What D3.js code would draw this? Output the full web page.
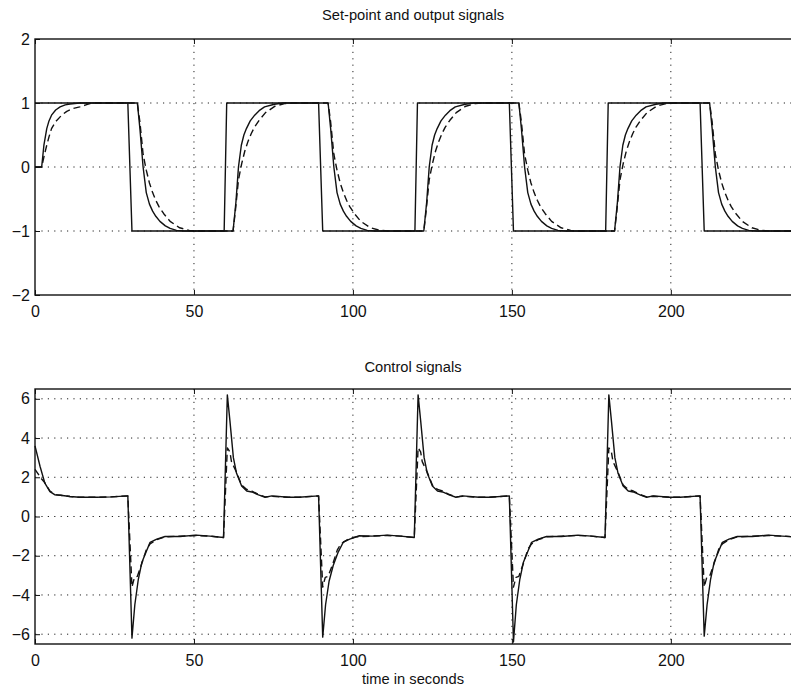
<!DOCTYPE html>
<html>
<head>
<meta charset="utf-8">
<script src="https://cdn.jsdelivr.net/npm/d3@7"></script>
<style>
  body { margin: 0; background: #fff; }
  svg { display: block; font-family: "Liberation Sans", Arial, Helvetica, sans-serif; }
  .grid line { stroke: #222; stroke-width: 1; stroke-dasharray: 1.2,5.2; }
  .axis text { font-size: 16px; fill: #111; }
  .axis line { stroke: #111; stroke-width: 1; }
  .axis path { display: none; }
  .frame { fill: none; stroke: #111; stroke-width: 1.4; }
  .sig { fill: none; stroke: #111; stroke-width: 1.4; stroke-linejoin: round; }
  .dash { stroke-dasharray: 7,4; }
  .title { font-size: 14.7px; fill: #111; text-anchor: middle; }
</style>
</head>
<body>
<p></p>
<script>
var w = 791;
var h = 688;

// time axis ticks and y ticks
var xTicks = [0, 50, 100, 150, 200];
var yTicksTop = [-2, -1, 0, 1, 2];
var yTicksBottom = [-6, -4, -2, 0, 2, 4, 6];

// set-point (square wave), [time, value]
var setpoint = [[0,1],[29.2,1],[30.5,-1],[59.5,-1],[60.3,1],[89.2,1],[90.5,-1],[119.5,-1],
  [120.3,1],[149.2,1],[150.5,-1],[179.5,-1],[180.3,1],[209.2,1],[210.5,-1],[240,-1]];

// output, solid curve
var outputSolid = [[0,0],[2.1,0],[2.8,0.34],[3.7,0.6],[4.4,0.72],[5.2,0.81],[6.5,0.89],[7.9,0.94],[9.5,0.97],[11,0.985],[14,1],
  [32.2,1],[33,0.6],[34,0],[35,-0.4],[36,-0.58],[37,-0.69],[38,-0.77],[39.3,-0.85],[41,-0.92],[42.5,-0.96],[44.5,-0.99],[47,-1],
  [62.3,-1],[63.2,-0.55],[64,0],[64.9,0.34],[65.7,0.5],[66.5,0.6],[67.7,0.72],[69.1,0.81],[70.5,0.88],[72.2,0.94],[75.3,0.98],[78,1],
  [92.2,1],[93,0.6],[94,0],[95,-0.4],[96,-0.58],[97,-0.69],[98,-0.77],[99.3,-0.85],[101,-0.92],[102.5,-0.96],[104.5,-0.99],[107,-1],
  [122.3,-1],[123.2,-0.55],[124,0],[124.9,0.34],[125.7,0.5],[126.5,0.6],[127.7,0.72],[129.1,0.81],[130.5,0.88],[132.2,0.94],[135.3,0.98],[138,1],
  [152.2,1],[153,0.6],[154,0],[155,-0.4],[156,-0.58],[157,-0.69],[158,-0.77],[159.3,-0.85],[161,-0.92],[162.5,-0.96],[164.5,-0.99],[167,-1],
  [182.3,-1],[183.2,-0.55],[184,0],[184.9,0.34],[185.7,0.5],[186.5,0.6],[187.7,0.72],[189.1,0.81],[190.5,0.88],[192.2,0.94],[195.3,0.98],[198,1],
  [212.2,1],[213,0.6],[214,0],[215,-0.4],[216,-0.58],[217,-0.69],[218,-0.77],[219.3,-0.85],[221,-0.92],[222.5,-0.96],[224.5,-0.99],[227,-1],[240,-1]];

// output, dashed curve
var outputDashed = [[0,0],[2.1,0],[3,0.2],[3.7,0.34],[4.4,0.47],[5.2,0.6],[6.5,0.71],[8.4,0.81],[10,0.87],[12,0.915],[14.1,0.94],[16,0.97],[18,1],
  [32.2,1],[33,0.7],[34,0.2],[35,-0.05],[36,-0.25],[37,-0.4],[38,-0.52],[39,-0.62],[40.5,-0.73],[42.5,-0.85],[45.5,-0.95],[48.5,-0.99],[51,-1],
  [62.3,-1],[63,-0.7],[64,-0.2],[65,0.05],[66,0.25],[67,0.4],[68,0.52],[69,0.62],[70.5,0.73],[72.5,0.85],[75.5,0.95],[78.5,0.99],[81,1],
  [92.2,1],[93,0.7],[94,0.2],[95,-0.05],[96,-0.25],[97,-0.4],[98,-0.52],[99,-0.62],[100.5,-0.73],[102.5,-0.85],[105.5,-0.95],[108.5,-0.99],[111,-1],
  [122.3,-1],[123,-0.7],[124,-0.2],[125,0.05],[126,0.25],[127,0.4],[128,0.52],[129,0.62],[130.5,0.73],[132.5,0.85],[135.5,0.95],[138.5,0.99],[141,1],
  [152.2,1],[153,0.7],[154,0.2],[155,-0.05],[156,-0.25],[157,-0.4],[158,-0.52],[159,-0.62],[160.5,-0.73],[162.5,-0.85],[165.5,-0.95],[168.5,-0.99],[171,-1],
  [182.3,-1],[183,-0.7],[184,-0.2],[185,0.05],[186,0.25],[187,0.4],[188,0.52],[189,0.62],[190.5,0.73],[192.5,0.85],[195.5,0.95],[198.5,0.99],[201,1],
  [212.2,1],[213,0.7],[214,0.2],[215,-0.05],[216,-0.25],[217,-0.4],[218,-0.52],[219,-0.62],[220.5,-0.73],[222.5,-0.85],[225.5,-0.95],[228.5,-0.99],[231,-1],[240,-1]];

// control signal, solid curve
var controlSolid = [[0,3.6],[1.6,2.55],[3.1,1.7],[4.7,1.27],[6.3,1.1],[8,1.08],[11,1.02],[14,0.98],[19.4,0.98],[24,1.0],[29.2,1.05],
  [30.5,-6.2],[31.4,-4.5],[32.5,-3.2],[33.6,-2.35],[35.1,-1.75],[36.2,-1.32],[38.3,-1.15],[40.9,-1.02],[45.6,-1.02],[50.8,-0.95],[55,-1.0],[59.3,-1.07],
  [60.5,6.2],[61.3,4.9],[62.4,3.0],[63.4,2.2],[65,1.55],[66.6,1.3],[68.2,1.25],[70.3,1.1],[72.4,0.98],[74.5,1.05],[79.7,0.98],[82.9,0.98],[89.2,1.05],
  [90.5,-6.15],[91.4,-4.5],[92.5,-3.3],[93.8,-2.5],[95.4,-1.8],[97,-1.3],[99,-1.15],[102,-0.98],[106,-1.0],[110.8,-0.95],[115,-1.0],[119.3,-1.07],
  [120.5,6.2],[121.3,4.9],[122.4,3.0],[123.4,2.2],[125,1.55],[126.6,1.3],[128.2,1.25],[130.3,1.1],[132.4,0.98],[134.5,1.05],[139.7,0.98],[142.9,0.98],[149.2,1.05],
  [150.5,-6.4],[151.4,-4.5],[152.5,-3.2],[153.6,-2.35],[155.1,-1.75],[156.2,-1.32],[158.3,-1.15],[160.9,-1.02],[165.6,-1.02],[170.8,-0.95],[175,-1.0],[179.3,-1.07],
  [180.5,6.2],[181.3,4.9],[182.4,3.0],[183.4,2.2],[185,1.55],[186.6,1.3],[188.2,1.25],[190.3,1.1],[192.4,0.98],[194.5,1.05],[199.7,0.98],[202.9,0.98],[209.2,1.05],
  [210.5,-6.1],[211.4,-4.5],[212.5,-3.2],[213.6,-2.35],[215.1,-1.75],[216.2,-1.32],[218.3,-1.15],[220.9,-1.02],[225.6,-1.02],[230.8,-0.95],[235,-1.0],[240,-1.05]];

// control signal, dashed curve
var controlDashed = [[0,2.4],[1.9,1.95],[3.1,1.72],[4.7,1.3],[6.3,1.12],[8,1.08],[11,1.02],[14,0.98],[19.4,0.98],[24,1.0],[29.2,1.05],
  [30.5,-3.6],[31.3,-3.1],[32.2,-3.05],[33.6,-2.4],[35.1,-1.65],[36.2,-1.4],[38.3,-1.18],[40.9,-1.04],[45.6,-1.0],[50.8,-0.97],[55,-1.0],[59.3,-1.07],
  [60.5,3.5],[61.3,3.3],[61.8,2.8],[63.4,2.25],[65,1.6],[66.6,1.38],[68.2,1.3],[70.3,1.12],[72.4,1.0],[74.5,1.03],[79.7,0.98],[82.9,0.98],[89.2,1.05],
  [90.5,-3.6],[91.3,-3.1],[92.2,-3.05],[93.6,-2.45],[95.1,-1.7],[96.2,-1.4],[98.3,-1.18],[100.9,-1.04],[105.6,-1.0],[110.8,-0.97],[115,-1.0],[119.3,-1.07],
  [120.5,3.5],[121.3,3.3],[121.8,2.8],[123.4,2.25],[125,1.6],[126.6,1.38],[128.2,1.3],[130.3,1.12],[132.4,1.0],[134.5,1.03],[139.7,0.98],[142.9,0.98],[149.2,1.05],
  [150.5,-3.6],[151.3,-3.1],[152.2,-3.05],[153.6,-2.4],[155.1,-1.65],[156.2,-1.4],[158.3,-1.18],[160.9,-1.04],[165.6,-1.0],[170.8,-0.97],[175,-1.0],[179.3,-1.07],
  [180.5,3.5],[181.3,3.3],[181.8,2.8],[183.4,2.25],[185,1.6],[186.6,1.38],[188.2,1.3],[190.3,1.12],[192.4,1.0],[194.5,1.03],[199.7,0.98],[202.9,0.98],[209.2,1.05],
  [210.5,-3.6],[211.3,-3.1],[212.2,-3.05],[213.6,-2.4],[215.1,-1.65],[216.2,-1.4],[218.3,-1.18],[220.9,-1.04],[225.6,-1.0],[230.8,-0.97],[235,-1.0],[240,-1.05]];

var svg = d3.select("p")
    .style("margin", "0")
    .append("svg")
    .attr("width", w)
    .attr("height", h);

// x range runs past the right edge of the window, as in the scan
var xScale = d3.scaleLinear().domain([0, 240]).range([35, 798]);

var yTop = d3.scaleLinear().domain([-2, 2]).range([295, 39]);
var yBottom = d3.scaleLinear().domain([-6.5, 6.5]).range([644, 389]);

var fmt = d3.format("d");

function panel(yScale, yTicks, title, titleY, series) {
    var y0 = yScale.range()[0];
    var y1 = yScale.range()[1];

    var g = svg.append("g");

    // dotted grid
    var grid = g.append("g").attr("class", "grid");
    grid.selectAll(".gx")
        .data(xTicks.filter(function(d) { return d > 0; }))
        .enter().append("line")
        .attr("x1", function(d) { return xScale(d); })
        .attr("x2", function(d) { return xScale(d); })
        .attr("y1", y1)
        .attr("y2", y0);
    grid.selectAll(".gy")
        .data(yTicks.filter(function(d) { return yScale(d) > y1 + 1 && yScale(d) < y0 - 1; }))
        .enter().append("line")
        .attr("x1", xScale.range()[0])
        .attr("x2", xScale.range()[1])
        .attr("y1", function(d) { return yScale(d); })
        .attr("y2", function(d) { return yScale(d); });

    // curves
    var line = d3.line()
        .x(function(d) { return xScale(d[0]); })
        .y(function(d) { return yScale(d[1]); });

    series.forEach(function(s) {
        g.append("path")
            .datum(s.data)
            .attr("class", s.dashed ? "sig dash" : "sig")
            .attr("d", line);
    });

    // axes with inward ticks
    g.append("g")
        .attr("class", "axis")
        .attr("transform", "translate(0," + y0 + ")")
        .call(d3.axisBottom(xScale).tickValues(xTicks).tickFormat(fmt).tickSize(-5).tickPadding(11));

    g.append("g")
        .attr("class", "axis")
        .attr("transform", "translate(0," + y1 + ")")
        .call(d3.axisTop(xScale).tickValues(xTicks).tickSize(-5).tickFormat(""));

    g.append("g")
        .attr("class", "axis")
        .attr("transform", "translate(" + xScale.range()[0] + ",0)")
        .call(d3.axisLeft(yScale).tickValues(yTicks).tickFormat(fmt).tickSize(-5).tickPadding(5));

    g.append("rect")
        .attr("class", "frame")
        .attr("x", xScale.range()[0])
        .attr("y", y1)
        .attr("width", xScale.range()[1] - xScale.range()[0])
        .attr("height", y0 - y1);

    svg.append("text")
        .attr("class", "title")
        .attr("x", 413)
        .attr("y", titleY)
        .text(title);
}

panel(yTop, yTicksTop, "Set-point and output signals", 20, [
    { data: setpoint, dashed: false },
    { data: outputSolid, dashed: false },
    { data: outputDashed, dashed: true }
]);

panel(yBottom, yTicksBottom, "Control signals", 372, [
    { data: controlSolid, dashed: false },
    { data: controlDashed, dashed: true }
]);

svg.append("text")
    .attr("class", "title")
    .attr("x", 413)
    .attr("y", 684)
    .text("time in seconds");
</script>
</body>
</html>
